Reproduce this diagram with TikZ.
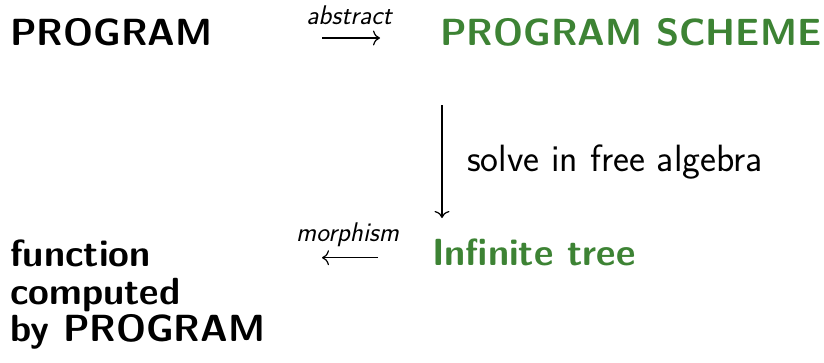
\documentclass[tikz,border=0pt]{standalone}
\usepackage{fontspec}
\usetikzlibrary{arrows.meta}

\definecolor{schemegreen}{RGB}{61,131,52}

\tikzset{
  titulo/.style={anchor=base west, inner sep=0pt,
    font=\fontsize{37.8}{37.5}\selectfont\sffamily\bfseries},
  etiqueta/.style={anchor=base, inner sep=0pt,
    font=\fontsize{27}{30}\selectfont\sffamily\itshape},
  flecha/.style={line width=1.2pt, -{Computer Modern Rightarrow[length=7pt,width=15pt]}}
}

\begin{document}
\begin{tikzpicture}[x=1pt, y=-1pt]
\useasboundingbox (0,0) rectangle (824,362);

% Nodos principales
\node[titulo] (prog) at (10,45) {PROGRAM};
\node[titulo, text=schemegreen] (scheme) at (440,45) {PROGRAM SCHEME};
\node[titulo, text=schemegreen] (tree) at (432,265) {Infinite tree};
\node[titulo, align=left] (func) at (10,341.7) {function\\computed\\by PROGRAM};

% Flechas
\coordinate (ab1) at (322,38);
\coordinate (ab2) at (380,38);
\draw[flecha] (ab1) -- (ab2);
\node[etiqueta] (abstract) at (349,24) {abstract};

\coordinate (so1) at (442,105);
\coordinate (so2) at (442,218);
\draw[flecha] (so1) -- (so2);
\node[anchor=base west, inner sep=0pt, font=\fontsize{38}{40}\selectfont\sffamily]
  (solve) at (467,171.7) {solve in free algebra};

\coordinate (mo1) at (378,257.7);
\coordinate (mo2) at (322,257.7);
\draw[flecha] (mo1) -- (mo2);
\node[etiqueta] (morph) at (347.5,241.5) {morphism};
\end{tikzpicture}
\end{document}
